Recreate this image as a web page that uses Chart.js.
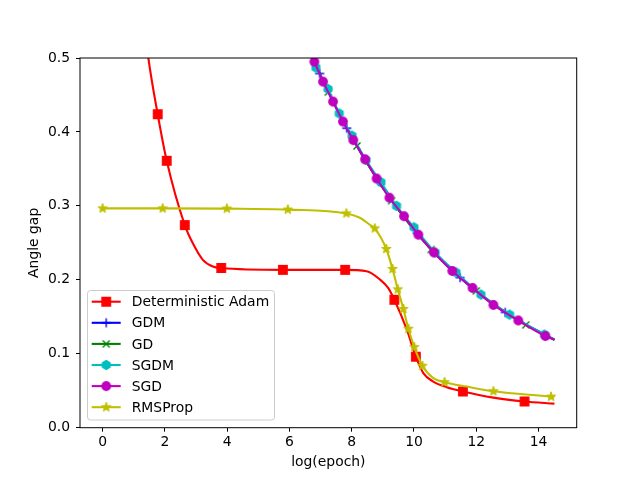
<!DOCTYPE html>
<html>
<head>
<meta charset="utf-8">
<script src="https://cdn.jsdelivr.net/npm/chart.js@4.4.1/dist/chart.umd.min.js"></script>
<style>
  body { margin: 0; background: #fff; }
  canvas { display: block; }
</style>
</head>
<body>
<canvas id="myChart" width="640" height="480"></canvas>
<script>
// values (x = log(epoch), y = angle gap)
const xTicks = [0, 2, 4, 6, 8, 10, 12, 14];
const yTicks = [0, 0.1, 0.2, 0.3, 0.4, 0.5];

const seriesNames = ['Deterministic Adam', 'GDM', 'GD', 'SGDM', 'SGD', 'RMSProp'];

// points with a marker
const adamMarkX = [1.77, 2.06, 2.64, 3.81, 5.79, 7.79, 9.37, 10.06, 11.57, 13.55];
const adamMarkY = [0.424, 0.361, 0.274, 0.216, 0.2135, 0.2135, 0.173, 0.096, 0.049, 0.0355];
// extra points on the curve (no marker)
const adamCurveX = [1.30, 1.47, 2.89, 3.22, 3.54, 8.48, 8.91, 9.17, 9.77, 10.30, 10.62, 11.05, 12.55, 14.51];
const adamCurveY = [0.56, 0.50, 0.250, 0.227, 0.218, 0.2116, 0.2003, 0.189, 0.1325, 0.0738, 0.0624, 0.0548, 0.0407, 0.0325];

const gdmMarkX = [6.97, 7.84, 8.87, 10.10, 11.48, 12.93];
const gdmMarkY = [0.479, 0.405, 0.333, 0.263, 0.203, 0.156];

const gdMarkX = [7.25, 8.17, 9.28, 10.55, 12.0, 13.59];
const gdMarkY = [0.454, 0.381, 0.307, 0.241, 0.185, 0.139];

const sgdmMarkX = [6.85, 7.24, 7.60, 8.01, 8.46, 8.94, 9.44, 10.00, 10.68, 11.35, 12.15, 13.07, 14.19];
const sgdmMarkY = [0.487, 0.458, 0.425, 0.395, 0.362, 0.332, 0.300, 0.271, 0.237, 0.210, 0.180, 0.153, 0.126];

const sgdMarkX = [6.80, 7.08, 7.40, 7.72, 8.05, 8.43, 8.80, 9.21, 9.68, 10.14, 10.64, 11.23, 11.88, 12.55, 13.35, 14.22];
const sgdMarkY = [0.495, 0.468, 0.441, 0.414, 0.389, 0.363, 0.337, 0.311, 0.286, 0.261, 0.237, 0.212, 0.189, 0.166, 0.145, 0.124];

// start (above the top, clipped) and end of the GD / GDM / SGD / SGDM curves
const sgdCurveX = [6.6, 14.51];
const sgdCurveY = [0.514, 0.119];

const rmsMarkX = [0.0, 1.93, 3.99, 5.95, 7.83, 8.74, 9.11, 9.31, 9.48, 9.66, 9.82, 10.01, 10.27, 10.98, 12.55, 14.40];
const rmsMarkY = [0.2966, 0.2966, 0.2963, 0.295, 0.2898, 0.2695, 0.2417, 0.2147, 0.1871, 0.1606, 0.1338, 0.109, 0.0837, 0.0616, 0.0493, 0.042];
const rmsCurveX = [8.26, 8.58, 10.62, 11.70, 14.51];
const rmsCurveY = [0.284, 0.2745, 0.067, 0.0556, 0.0415];

const FONT = 'DejaVu Sans';
const FS = 13.9;
const LINE_W = 2.1;

// matplotlib-like markers drawn on small canvases
function makeMarker(shape, color) {
    const c = document.createElement('canvas');
    c.width = 14; c.height = 14;
    const g = c.getContext('2d');
    g.translate(7, 7);
    g.fillStyle = color;
    g.strokeStyle = color;
    g.lineWidth = 1.4;
    g.beginPath();
    if (shape === 'square') {
        g.rect(-4.2, -4.2, 8.4, 8.4);
        g.fill(); g.stroke();
    } else if (shape === 'circle') {
        g.arc(0, 0, 4.2, 0, Math.PI * 2);
        g.fill(); g.stroke();
    } else if (shape === 'hexagon') {
        for (let i = 0; i < 6; i++) {
            const a = -Math.PI / 2 + i * Math.PI / 3;
            const px = 4.4 * Math.cos(a), py = 4.4 * Math.sin(a);
            if (i === 0) g.moveTo(px, py); else g.lineTo(px, py);
        }
        g.closePath();
        g.fill(); g.stroke();
    } else if (shape === 'star') {
        g.lineWidth = 1;
        for (let i = 0; i < 10; i++) {
            const r = i % 2 === 0 ? 5 : 2;
            const a = -Math.PI / 2 + i * Math.PI / 5;
            const px = r * Math.cos(a), py = r * Math.sin(a);
            if (i === 0) g.moveTo(px, py); else g.lineTo(px, py);
        }
        g.closePath();
        g.fill(); g.stroke();
    } else if (shape === 'plus') {
        g.moveTo(-4.5, 0); g.lineTo(4.5, 0);
        g.moveTo(0, -4.5); g.lineTo(0, 4.5);
        g.stroke();
    } else if (shape === 'x') {
        g.moveTo(-3.5, -3.5); g.lineTo(3.5, 3.5);
        g.moveTo(-3.5, 3.5); g.lineTo(3.5, -3.5);
        g.stroke();
    }
    return c;
}

const colors = ['#ff0000', '#0000ff', '#008000', '#00bfbf', '#bf00bf', '#bfbf00'];
const shapes = ['square', 'plus', 'x', 'hexagon', 'circle', 'star'];
const markers = shapes.map((s, i) => makeMarker(s, colors[i]));

function buildPoints(markX, markY, curveX, curveY) {
    const pts = markX.map((x, i) => ({ x: x, y: markY[i], m: true }))
        .concat(curveX.map((x, i) => ({ x: x, y: curveY[i], m: false })));
    pts.sort((a, b) => a.x - b.x);
    return pts;
}

const allPoints = [
    buildPoints(adamMarkX, adamMarkY, adamCurveX, adamCurveY),
    buildPoints(gdmMarkX, gdmMarkY, sgdCurveX, sgdCurveY),
    buildPoints(gdMarkX, gdMarkY, sgdCurveX, sgdCurveY),
    buildPoints(sgdmMarkX, sgdmMarkY, sgdCurveX, sgdCurveY),
    buildPoints(sgdMarkX, sgdMarkY, sgdCurveX, sgdCurveY),
    buildPoints(rmsMarkX, rmsMarkY, rmsCurveX, rmsCurveY)
];

const datasets = allPoints.map((pts, i) => ({
    label: seriesNames[i],
    data: pts.map(p => ({ x: p.x, y: p.y })),
    borderColor: colors[i],
    backgroundColor: colors[i],
    borderWidth: LINE_W,
    pointStyle: markers[i],
    pointRadius: pts.map(p => (p.m ? 5 : 0)),
    pointHoverRadius: 0,
    cubicInterpolationMode: 'monotone',
    fill: false,
    order: seriesNames.length - i // later series drawn on top, like matplotlib
}));

// box around the axes + matplotlib-style legend
const framePlugin = {
    id: 'frameAndLegend',
    afterDraw(chart) {
        const ctx = chart.ctx;
        const a = chart.chartArea;
        ctx.save();
        ctx.strokeStyle = '#000';
        ctx.lineWidth = 1;
        ctx.strokeRect(a.left, a.top, a.right - a.left, a.bottom - a.top);

        // legend
        const lx = 87.5, ly = 290.5, lw = 187, lh = 129.5, r = 3;
        ctx.beginPath();
        ctx.moveTo(lx + r, ly);
        ctx.lineTo(lx + lw - r, ly);
        ctx.arcTo(lx + lw, ly, lx + lw, ly + r, r);
        ctx.lineTo(lx + lw, ly + lh - r);
        ctx.arcTo(lx + lw, ly + lh, lx + lw - r, ly + lh, r);
        ctx.lineTo(lx + r, ly + lh);
        ctx.arcTo(lx, ly + lh, lx, ly + lh - r, r);
        ctx.lineTo(lx, ly + r);
        ctx.arcTo(lx, ly, lx + r, ly, r);
        ctx.closePath();
        ctx.fillStyle = 'rgba(255,255,255,0.8)';
        ctx.fill();
        ctx.strokeStyle = '#cccccc';
        ctx.lineWidth = 1;
        ctx.stroke();

        ctx.font = FS + 'px "' + FONT + '"';
        ctx.textBaseline = 'middle';
        ctx.textAlign = 'left';
        seriesNames.forEach((name, i) => {
            const y = 301.7 + i * 21.1;
            ctx.strokeStyle = colors[i];
            ctx.lineWidth = LINE_W;
            ctx.beginPath();
            ctx.moveTo(91.7, y);
            ctx.lineTo(120.7, y);
            ctx.stroke();
            ctx.drawImage(markers[i], 106.2 - 7, y - 7);
            ctx.fillStyle = '#000';
            ctx.fillText(name, 131.7, y + 1);
        });
        ctx.restore();
    }
};

const ctx = document.getElementById('myChart').getContext('2d');
const myChart = new Chart(ctx, {
    type: 'line',
    data: { datasets: datasets },
    options: {
        responsive: false,
        animation: false,
        events: [],
        layout: { padding: { top: 58, right: 63.3, left: 0, bottom: 0 } },
        plugins: {
            legend: { display: false },
            tooltip: { enabled: false }
        },
        scales: {
            x: {
                type: 'linear',
                min: -0.725,
                max: 15.225,
                afterBuildTicks: scale => { scale.ticks = xTicks.map(v => ({ value: v })); },
                afterFit: scale => { scale.height = 52.3; },
                ticks: {
                    color: '#000',
                    font: { family: FONT, size: FS },
                    padding: 2,
                    maxRotation: 0,
                    callback: v => String(v)
                },
                grid: { drawOnChartArea: false, drawTicks: true, tickLength: 4, color: '#000' },
                border: { display: false },
                title: {
                    display: true,
                    text: 'log(epoch)',
                    color: '#000',
                    font: { family: FONT, size: FS },
                    padding: { top: 2, bottom: 9.5 }
                }
            },
            y: {
                min: 0,
                max: 0.5,
                afterBuildTicks: scale => { scale.ticks = yTicks.map(v => ({ value: v })); },
                afterFit: scale => { scale.width = 80; },
                ticks: {
                    color: '#000',
                    font: { family: FONT, size: FS },
                    padding: 6,
                    callback: v => v.toFixed(1)
                },
                grid: { drawOnChartArea: false, drawTicks: true, tickLength: 4, color: '#000' },
                border: { display: false },
                title: {
                    display: true,
                    text: 'Angle gap',
                    color: '#000',
                    font: { family: FONT, size: FS },
                    padding: { top: 26.5, bottom: 0 }
                }
            }
        }
    },
    plugins: [framePlugin]
});
</script>
</body>
</html>
